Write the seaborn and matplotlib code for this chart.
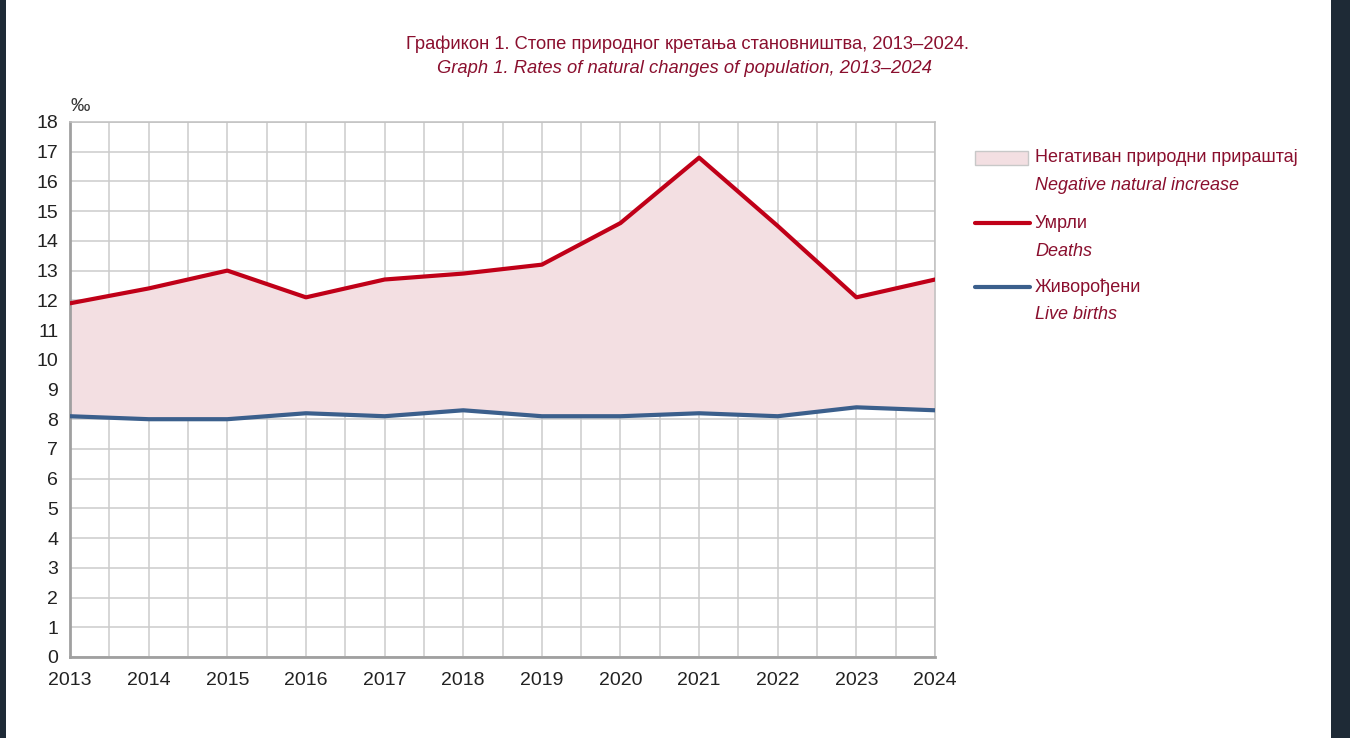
import matplotlib
matplotlib.use('Agg')
import matplotlib.pyplot as plt
import seaborn as sns
import pandas as pd
from matplotlib.lines import Line2D
from matplotlib.patches import Rectangle

YEARS = [2013, 2014, 2015, 2016, 2017, 2018, 2019, 2020, 2021, 2022, 2023, 2024]
DEATHS = [11.9, 12.4, 13.0, 12.1, 12.7, 12.9, 13.2, 14.6, 16.8, 14.5, 12.1, 12.7]
BIRTHS = [8.1, 8.0, 8.0, 8.2, 8.1, 8.3, 8.1, 8.1, 8.2, 8.1, 8.4, 8.3]

TITLE_SR = 'Графикон 1. Стопе природног кретања становништва, 2013–2024.'
TITLE_EN = 'Graph 1. Rates of natural changes of population, 2013–2024'
LEGEND = [
    ('Негативан природни прираштај', 'Negative natural increase'),
    ('Умрли', 'Deaths'),
    ('Живорођени', 'Live births'),
]

RED = '#c00018'
BLUE = '#3b5f8c'
FILL = '#f3dfe2'
TXT_RED = '#8a0f2e'
GRID = '#cccccc'

sns.set_theme(style='white')
plt.rcParams['font.family'] = ['Liberation Sans', 'DejaVu Sans']

df = pd.DataFrame({'year': YEARS, 'deaths': DEATHS, 'births': BIRTHS})

fig = plt.figure(figsize=(13.5, 7.38), dpi=100)
fig.patch.set_facecolor('white')
ax = fig.add_axes([0.0519, 0.1098, 0.6407, 0.7249])

ax.fill_between(df['year'], df['births'], df['deaths'], color=FILL, lw=0, zorder=1)
sns.lineplot(data=df, x='year', y='births', color=BLUE, lw=3, ax=ax, zorder=3)
sns.lineplot(data=df, x='year', y='deaths', color=RED, lw=3, ax=ax, zorder=3)

ax.set_xlim(2013, 2024)
ax.set_ylim(0, 18)
ax.set_xticks(YEARS)
ax.set_xticks([y + 0.5 for y in YEARS[:-1]], minor=True)
ax.set_yticks(range(0, 19))
ax.grid(True, which='major', color=GRID, lw=1.1, zorder=0)
ax.grid(True, which='minor', axis='x', color=GRID, lw=1.1, zorder=0)
ax.set_axisbelow(True)
for s in ax.spines.values():
    s.set_color('#c0c0c0')
    s.set_linewidth(1.1)
ax.spines['left'].set_color('#a0a0a0')
ax.spines['bottom'].set_color('#a0a0a0')
ax.spines['left'].set_linewidth(2)
ax.spines['bottom'].set_linewidth(2)
ax.tick_params(axis='both', which='major', labelsize=14, colors='#a0a0a0',
               labelcolor='#222222', length=5, width=1.5, direction='out')
ax.tick_params(axis='x', which='minor', length=0)
ax.tick_params(axis='x', pad=6)
ax.set_xlabel('')
ax.set_ylabel('')
ax.text(0.0, 1.014, '‰', transform=ax.transAxes, fontsize=14, color='#333333',
        ha='left', va='bottom')

fig.text(0.509, 0.94, TITLE_SR, ha='center', va='center', fontsize=13.2, color=TXT_RED)
fig.text(0.507, 0.907, TITLE_EN, ha='center', va='center', fontsize=13.2, color=TXT_RED,
         style='italic')

W, H = 1350, 738
def fx(px):
    return px / W
def fy(py):
    return 1 - py / H

fig.patches.append(Rectangle((fx(975), fy(165)), fx(53), 14 / H, transform=fig.transFigure,
                             facecolor=FILL, edgecolor='#c8c8c8', lw=1))
fig.lines.append(Line2D([fx(975), fx(1030)], [fy(223), fy(223)], transform=fig.transFigure,
                        color=RED, lw=3))
fig.lines.append(Line2D([fx(975), fx(1030)], [fy(287), fy(287)], transform=fig.transFigure,
                        color=BLUE, lw=3))
for (sr, en), y0 in zip(LEGEND, [158, 223, 287]):
    fig.text(fx(1035), fy(y0), sr, ha='left', va='center', fontsize=13, color=TXT_RED)
    fig.text(fx(1035), fy(y0 + 28), en, ha='left', va='center', fontsize=13, color=TXT_RED,
             style='italic')

# dark screen edges
fig.patches.append(Rectangle((0, 0), fx(6), 1, transform=fig.transFigure,
                             facecolor='#1e2a36', lw=0))
fig.patches.append(Rectangle((fx(1331), 0), 1, 1, transform=fig.transFigure,
                             facecolor='#1e2a36', lw=0))

fig.savefig('out.png', dpi=100)
